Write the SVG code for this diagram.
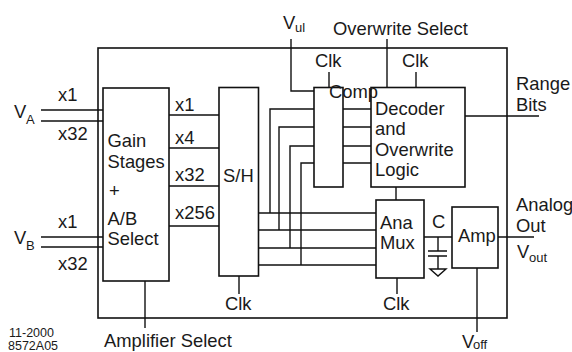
<svg xmlns="http://www.w3.org/2000/svg" width="572" height="352" viewBox="0 0 572 352">
<style>
rect{fill:none;stroke:#111;stroke-width:1.6}
path{fill:none;stroke:#111;stroke-width:1.4}
text{font-family:"Liberation Sans",Arial,sans-serif;font-size:18.400px;fill:#1a1a1a}
.s{font-size:12.500px}
.t{font-size:13px}
</style>
<rect width="572" height="352" style="fill:#fff;stroke:none"/>
<g id="connectors">
<path d="M41 110H103M41 121H103M41 237H103M41 247H103"/>
<path d="M169 115H219M169 148H219M169 186H219M169 226H219"/>
<path d="M258 213H376M258 230H376M258 248H376M258 265H376"/>
<path d="M270 213V109H314M279 230V127H314M290 248V146H314M301 265V163H314"/>
<path d="M343 109H371M343 127H371M343 146H371M343 163H371"/>
<path d="M291 39V91H314M387 39V88M329 72V88M416 72V88"/>
<path d="M465 116H539M396 187V200M424 237H452M498 237H534"/>
<path d="M438 237V251M428 251H447M428 256H447M438 256V269M430 269H446L438 276Z"/>
<path d="M477 268V332M397 278V294M239 276V294M145 281V328"/>
</g>
<g id="frame"><rect x="98" y="48" width="409" height="270"/></g>
<g id="gain"><rect x="103" y="88" width="66" height="193"/>
<text x="107.500" y="147">Gain</text><text x="107.500" y="168">Stages</text><text x="109" y="197">+</text><text x="107.500" y="225">A/B</text><text x="107.500" y="245">Select</text></g>
<g id="sh"><rect x="219" y="87.500" width="39.500" height="188.500"/><text x="223" y="182">S/H</text></g>
<g id="comp"><rect x="314" y="87.500" width="29" height="99.500"/><text x="329" y="98">Comp</text></g>
<g id="decoder"><rect x="371" y="87.500" width="94" height="99.500"/>
<text x="375" y="115">Decoder</text><text x="375" y="135">and</text><text x="375" y="156">Overwrite</text><text x="375" y="176">Logic</text></g>
<g id="mux"><rect x="376" y="200" width="48" height="78"/><text x="380" y="229">Ana</text><text x="380" y="249">Mux</text></g>
<g id="amp"><rect x="452" y="207" width="46" height="61"/><text x="458" y="242">Amp</text></g>
<g id="labels">
<text x="58" y="101">x1</text><text x="58" y="140">x32</text>
<text x="58" y="228">x1</text><text x="58" y="270">x32</text>
<text x="14" y="118">V</text><text x="26" y="124" class="t">A</text>
<text x="14" y="244">V</text><text x="26" y="250" class="t">B</text>
<text x="175" y="111">x1</text><text x="175" y="144">x4</text><text x="175" y="181">x32</text><text x="175" y="219">x256</text>
<text x="283" y="29">V</text><text x="295" y="32" class="t">ul</text>
<text x="333" y="35">Overwrite Select</text>
<text x="315" y="67">Clk</text><text x="402" y="67">Clk</text>
<text x="516" y="90">Range</text><text x="516" y="111">Bits</text>
<text x="225" y="310">Clk</text><text x="383" y="310">Clk</text>
<text x="432" y="228">C</text>
<text x="516" y="211">Analog</text><text x="516" y="232">Out</text>
<text x="517" y="258">V</text><text x="529" y="262" class="t">out</text>
<text x="462" y="348">V</text><text x="473" y="349" class="t">off</text>
<text x="104" y="347">Amplifier Select</text>
<text x="9" y="337" class="s">11-2000</text><text x="8" y="350" class="s">8572A05</text>
</g>
</svg>
